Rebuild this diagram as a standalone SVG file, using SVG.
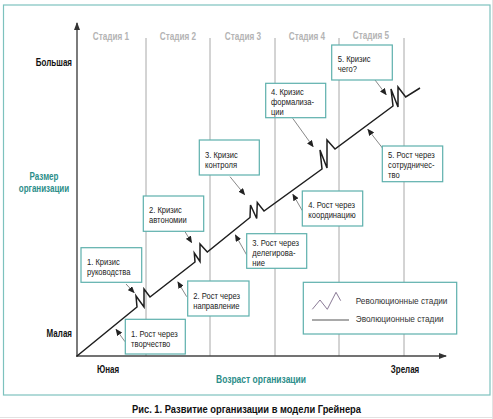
<svg xmlns="http://www.w3.org/2000/svg" width="493" height="419" viewBox="0 0 493 419">
<style>
.t{font-family:"Liberation Sans",Arial,sans-serif;font-size:9.5px;fill:#222}
.lbl{font-family:"Liberation Sans",Arial,sans-serif;font-size:10px;font-weight:bold;fill:#111}
.teal{fill:#2b8d89}
.stage{font-family:"Liberation Sans",Arial,sans-serif;font-size:10px;font-weight:bold;fill:#b4b4b4}
.box{fill:#fff;stroke:#5db0ac;stroke-width:1.2}
.grid{stroke:#a8a8a8;stroke-width:1}
.axis{stroke:#444;stroke-width:1.4;fill:none}
.main{stroke:#1e1e1e;stroke-width:1.5;fill:none;stroke-linejoin:miter}
.ptr{stroke:#555;stroke-width:0.7;fill:none;marker-end:url(#ah)}
</style>
<defs>
<marker id="ah" markerWidth="7" markerHeight="6" refX="6" refY="3" orient="auto" markerUnits="userSpaceOnUse">
<path d="M0,0 L7,3 L0,6 Z" fill="#222"/>
</marker>
<marker id="axh" markerWidth="8" markerHeight="6" refX="7" refY="3" orient="auto" markerUnits="userSpaceOnUse">
<path d="M0,0 L8,3 L0,6 Z" fill="#333"/>
</marker>
</defs>
<rect x="0" y="0" width="493" height="419" fill="#fff"/>
<line x1="0" y1="417.5" x2="493" y2="417.5" stroke="#e2e2e2"/>
<line x1="492.5" y1="0" x2="492.5" y2="419" stroke="#e2e2e2"/>
<rect x="3.5" y="5" width="486.5" height="390" fill="none" stroke="#7dc2be" stroke-width="1.2"/>

<g id="grid">
<line class="grid" x1="146" y1="38" x2="146" y2="356"/>
<line class="grid" x1="210" y1="38" x2="210" y2="356"/>
<line class="grid" x1="275" y1="38" x2="275" y2="356"/>
<line class="grid" x1="339" y1="38" x2="339" y2="356"/>
<line class="grid" x1="404" y1="38" x2="404" y2="356"/>
</g>
<g id="stages" text-anchor="middle">
<text class="stage" transform="translate(111,40) scale(0.82,1)">Стадия 1</text>
<text class="stage" transform="translate(178,40) scale(0.82,1)">Стадия 2</text>
<text class="stage" transform="translate(243,40) scale(0.82,1)">Стадия 3</text>
<text class="stage" transform="translate(307,40) scale(0.82,1)">Стадия 4</text>
<text class="stage" transform="translate(371,39) scale(0.82,1)">Стадия 5</text>
</g>

<g id="axes">
<line class="axis" x1="77" y1="357" x2="77" y2="23" marker-end="url(#axh)"/>
<line class="axis" x1="76" y1="356" x2="446" y2="356" marker-end="url(#axh)"/>
<text class="lbl" text-anchor="end" transform="translate(72,65.5) scale(0.8,1)">Большая</text>
<text class="lbl" text-anchor="end" transform="translate(72,336.5) scale(0.8,1)">Малая</text>
<text class="lbl teal" text-anchor="middle" transform="translate(44,179.5) scale(0.8,1)">Размер</text>
<text class="lbl teal" text-anchor="middle" transform="translate(44,191.5) scale(0.8,1)">организации</text>
<text class="lbl" text-anchor="middle" transform="translate(108,372.5) scale(0.8,1)">Юная</text>
<text class="lbl" text-anchor="middle" transform="translate(405,372.5) scale(0.8,1)">Зрелая</text>
<text class="lbl teal" text-anchor="middle" transform="translate(261,382.5) scale(0.85,1)">Возраст организации</text>
</g>

<g id="curve">
<polyline class="main" points="77,356 137,307 136,296 144,307 144,289 150,297 195,262 194.3,253 200,261.5 200,244 207.3,252 250,217.5 250.5,205 256.7,218.5 257.3,202.5 264,211 322,169 320,150 327,168 327,140 335,149 393,106 391,89 398,107 398,87 405.7,97 420,88"/>
</g>

<g id="connectors">
<line class="ptr" x1="126" y1="284" x2="134" y2="292.5"/>
<line class="ptr" x1="125" y1="341.7" x2="116.2" y2="329.5"/>
<line class="ptr" x1="185" y1="231.7" x2="191.5" y2="242.3"/>
<line class="ptr" x1="186.7" y1="296.7" x2="178" y2="282.2"/>
<line class="ptr" x1="230" y1="176.7" x2="244.5" y2="194.5"/>
<line class="ptr" x1="246.7" y1="255" x2="235.5" y2="235.2"/>
<line class="ptr" x1="302.3" y1="210.7" x2="293" y2="194.5"/>
<line class="ptr" x1="292.7" y1="118.3" x2="313" y2="146.5"/>
<line class="ptr" x1="375" y1="80" x2="386" y2="94.5"/>
<line class="ptr" x1="384" y1="150" x2="368" y2="129.5"/>
</g>

<g id="n1c">
<rect class="box" x="81" y="247.7" width="60.7" height="34.6"/>
<text class="t" transform="translate(87,265) scale(0.8,1)">1. Кризис</text>
<text class="t" transform="translate(87,275) scale(0.8,1)">руководства</text>
</g>
<g id="n1g">
<rect class="box" x="125.3" y="319.3" width="60" height="34.7"/>
<text class="t" transform="translate(131,336.5) scale(0.8,1)">1. Рост через</text>
<text class="t" transform="translate(131,346.5) scale(0.8,1)">творчество</text>
</g>
<g id="n2c">
<rect class="box" x="143.3" y="196" width="60.4" height="35.3"/>
<text class="t" transform="translate(149,212.5) scale(0.8,1)">2. Кризис</text>
<text class="t" transform="translate(149,222.5) scale(0.8,1)">автономии</text>
</g>
<g id="n2g">
<rect class="box" x="187.7" y="281" width="61.3" height="35"/>
<text class="t" transform="translate(193.3,298.5) scale(0.8,1)">2. Рост через</text>
<text class="t" transform="translate(193.3,308.5) scale(0.8,1)">направление</text>
</g>
<g id="n3c">
<rect class="box" x="199.3" y="140" width="60" height="35"/>
<text class="t" transform="translate(205,157.5) scale(0.8,1)">3. Кризис</text>
<text class="t" transform="translate(205,167.5) scale(0.8,1)">контроля</text>
</g>
<g id="n3g">
<rect class="box" x="246.7" y="233.7" width="60" height="34.6"/>
<text class="t" transform="translate(252.3,245.5) scale(0.8,1)">3. Рост через</text>
<text class="t" transform="translate(252.3,255.5) scale(0.8,1)">делегирова-</text>
<text class="t" transform="translate(252.3,265.5) scale(0.8,1)">ние</text>
</g>
<g id="n4g">
<rect class="box" x="302.3" y="191" width="60.4" height="35"/>
<text class="t" transform="translate(308.3,207.5) scale(0.8,1)">4. Рост через</text>
<text class="t" transform="translate(308.3,217.5) scale(0.8,1)">координацию</text>
</g>
<g id="n4c">
<rect class="box" x="265.7" y="83.3" width="60" height="34.4"/>
<text class="t" transform="translate(271,95) scale(0.8,1)">4. Кризис</text>
<text class="t" transform="translate(271,105) scale(0.8,1)">формализа-</text>
<text class="t" transform="translate(271,115) scale(0.8,1)">ции</text>
</g>
<g id="n5c">
<rect class="box" x="331.7" y="45" width="60.6" height="35"/>
<text class="t" transform="translate(337.7,61.5) scale(0.8,1)">5. Кризис</text>
<text class="t" transform="translate(337.7,71.5) scale(0.8,1)">чего?</text>
</g>
<g id="n5g">
<rect class="box" x="382.3" y="146" width="60.4" height="35.7"/>
<text class="t" transform="translate(388,157.5) scale(0.8,1)">5. Рост через</text>
<text class="t" transform="translate(388,167.5) scale(0.8,1)">сотрудничес-</text>
<text class="t" transform="translate(388,177.5) scale(0.8,1)">тво</text>
</g>

<g id="legend">
<rect class="box" x="303.3" y="282.3" width="153.4" height="51.7"/>
<polyline points="312.3,309.3 320,300 327.3,309.3 336,292.3 340.7,300.7" fill="none" stroke="#8a7a96" stroke-width="1"/>
<line x1="312" y1="320" x2="349" y2="320" stroke="#555" stroke-width="1.2"/>
<text class="t" transform="translate(355.7,303.5) scale(0.87,1)" style="fill:#333">Революционные стадии</text>
<text class="t" transform="translate(355.7,322) scale(0.87,1)" style="fill:#333">Эволюционные стадии</text>
</g>

<text transform="translate(246.5,413) scale(0.85,1)" text-anchor="middle" font-family="Liberation Sans, Arial, sans-serif" font-size="11" font-weight="bold" fill="#111">Рис. 1. Развитие организации в модели Грейнера</text>
</svg>
